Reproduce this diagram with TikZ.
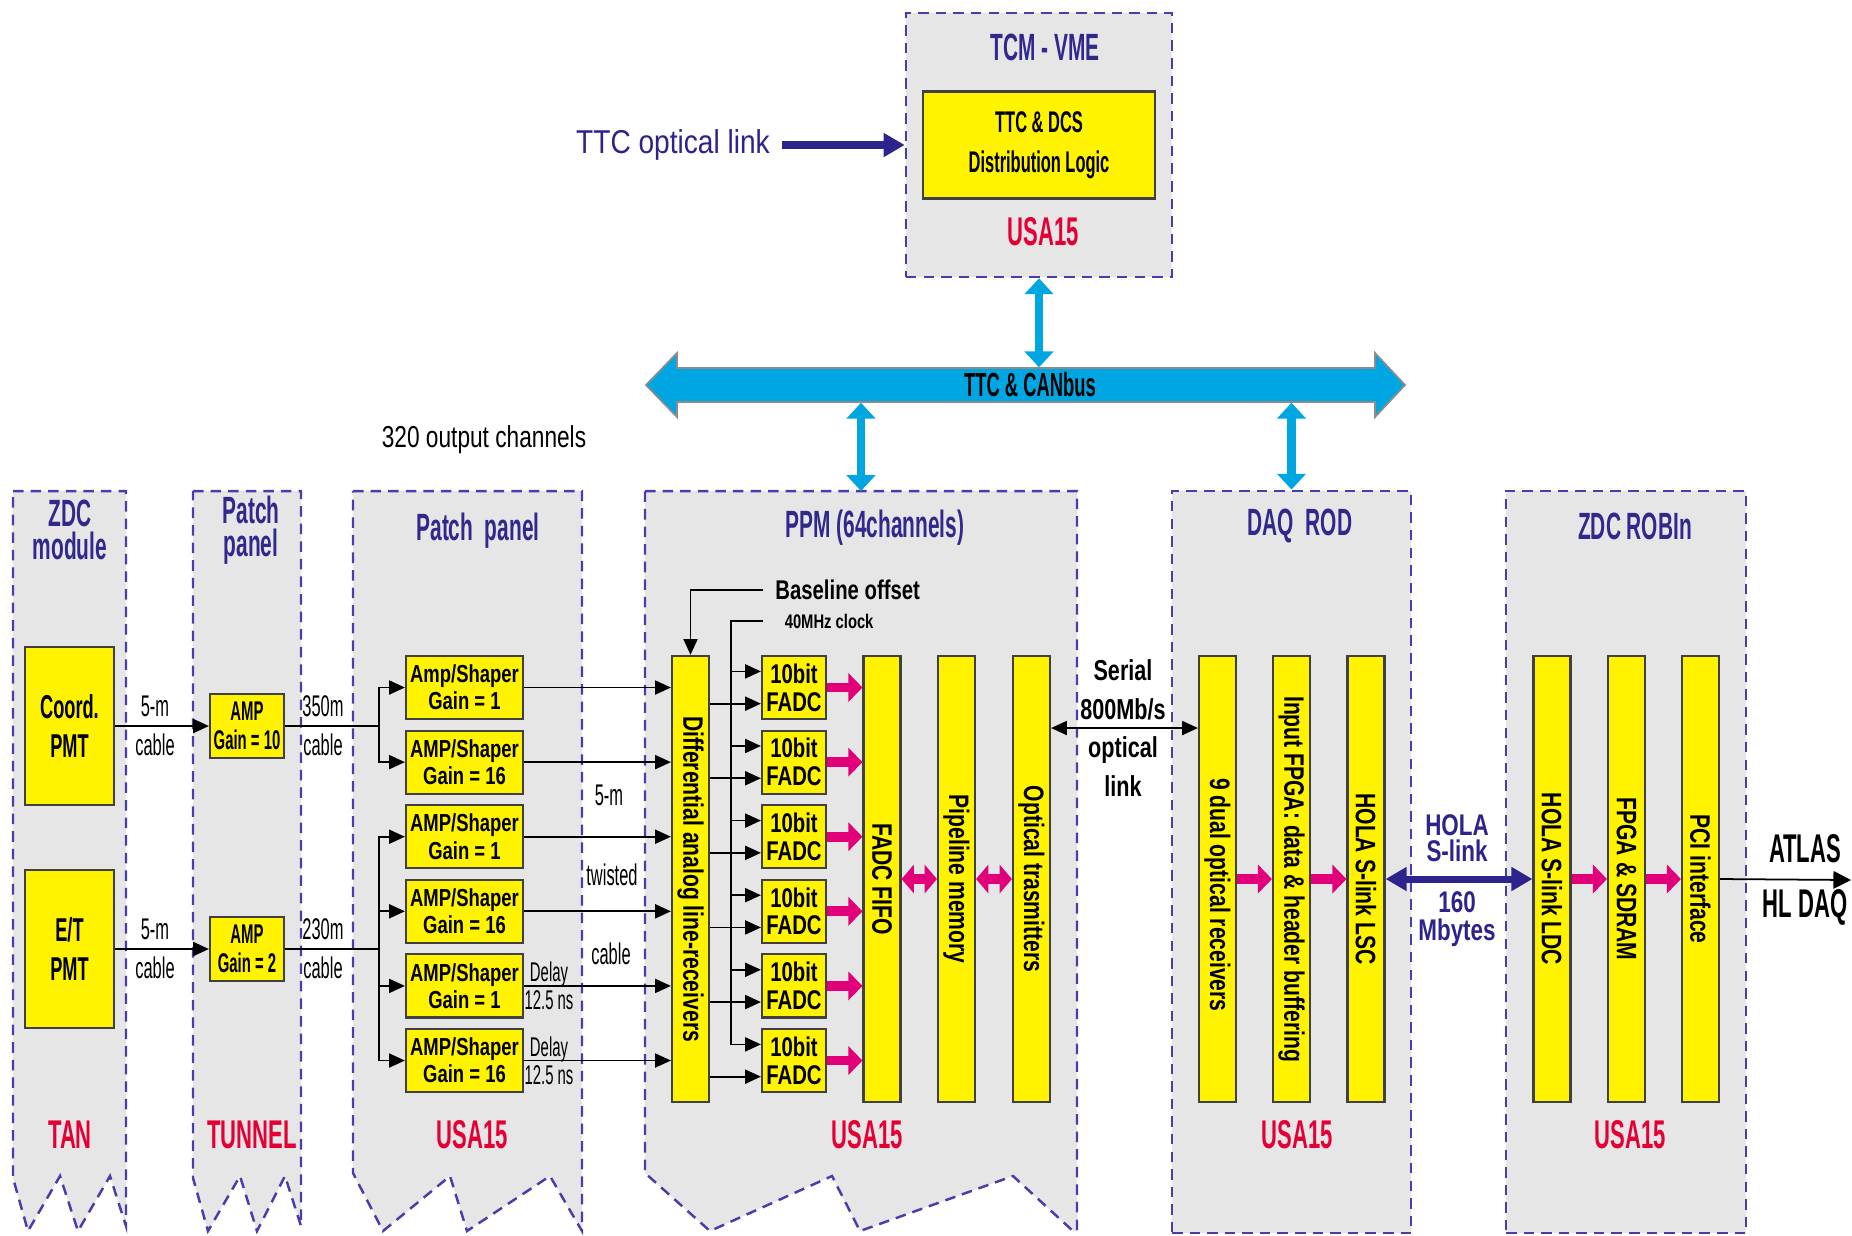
\documentclass[tikz,border=0pt]{standalone}
\usepackage{fontspec}
\setmainfont{Liberation Sans}
\newfontfamily\nfont[FakeStretch=0.55]{Liberation Sans}
\newfontfamily\cfont[FakeStretch=0.75]{Liberation Sans}
\newfontfamily\mfont[FakeStretch=0.85]{Liberation Sans}
\usetikzlibrary{arrows.meta}

\definecolor{zyellow}{RGB}{255,243,0}
\definecolor{panelgray}{RGB}{230,230,230}
\definecolor{dashblue}{RGB}{72,62,170}
\definecolor{titleblue}{RGB}{48,40,140}
\definecolor{usared}{RGB}{228,0,52}
\definecolor{sigmag}{RGB}{226,0,122}
\definecolor{ttcblue}{RGB}{0,166,226}
\definecolor{linkblue}{RGB}{45,35,140}

\begin{document}
\begin{tikzpicture}[x=0.01cm, y=-0.01cm,
    panel/.style={draw=dashblue, fill=panelgray, dash pattern=on 3pt off 2pt, line width=0.7pt},
    box/.style={draw=black!75, fill=zyellow, line width=0.6pt, inner sep=0.5pt, align=center},
    shaper/.style={box, minimum width=1.17cm, minimum height=0.63cm, font=\cfont\bfseries\fontsize{7}{7.7}\selectfont},
    fadc/.style={box, minimum width=0.64cm, minimum height=0.63cm, font=\cfont\bfseries\fontsize{7.7}{7.9}\selectfont},
    bar/.style={box, minimum width=0.37cm, minimum height=4.46cm},
    bartext/.style={rotate=-90, font=\cfont\bfseries\fontsize{8}{9}\selectfont},
    title/.style={text=titleblue, font=\nfont\bfseries\fontsize{10.8}{9.4}\selectfont, align=center},
    loc/.style={text=usared, font=\nfont\bfseries\fontsize{11.4}{12}\selectfont},
    note/.style={font=\nfont\fontsize{8.5}{11}\selectfont, align=center},
    sig/.style={line width=0.5pt, -{Triangle[length=4.5pt, width=4pt]}},
    mag/.style={sigmag, line width=2.8pt, -{Triangle[length=4pt, width=8pt]}},
    dmag/.style={sigmag, line width=2.8pt, {Triangle[length=3.5pt, width=8pt]}-{Triangle[length=3.5pt, width=8pt]}},
    ttcarrow/.style={ttcblue, line width=2.5pt, {Triangle[length=4.5pt, width=8pt]}-{Triangle[length=4.5pt, width=8pt]}},
    linkarrow/.style={linkblue, line width=2pt, -{Triangle[length=6pt, width=6.5pt]}}
]
    \path[use as bounding box, fill=white] (0,0) rectangle (1852,1235);

    % TCM - VME crate
    \node[panel, minimum width=2.66cm, minimum height=2.64cm] (tcm) at (1039,145) {};
    \node[title] (tcmt) at (1045,47) {TCM - VME};
    \node[box, minimum width=2.32cm, minimum height=1.07cm, font=\nfont\bfseries\fontsize{8.5}{11.4}\selectfont] (dist) at (1039,145) {TTC \& DCS\\Distribution Logic};
    \node[loc] (tcmloc) at (1043,232) {USA15};
    \node[text=linkblue, font=\mfont\fontsize{9.4}{10}\selectfont] (ttclink) at (673,145) {TTC optical link};
    \draw[linkarrow] (ttclink.east) -- (tcm.west);

    % TTC & CANbus
    \filldraw[fill=ttcblue, draw=black!45, line width=0.5pt] (646,385) -- (677,353) -- (677,368) -- (1375,368) -- (1375,353) -- (1405,385)
        -- (1375,417) -- (1375,402) -- (677,402) -- (677,417) -- cycle;
    \node[minimum width=6.98cm, minimum height=0.34cm, inner sep=0, font=\nfont\bfseries\fontsize{9.5}{10}\selectfont] (bus) at (1030,385) {TTC \& CANbus};
    \draw[ttcarrow] (tcm.south) -- (tcm.south |- bus.north);

    \node[font=\cfont\fontsize{8.6}{9}\selectfont] (nout) at (484,440) {320 output channels};

    % ZDC module
    \draw[panel] (13,491) -- (126,491) -- (126,1226) -- (110,1176) -- (78,1231) -- (60,1176) -- (28,1231) -- (13,1178) -- cycle;
    \node[title] (zdct) at (70,530) {ZDC\\module};
    \node[box, minimum width=0.89cm, minimum height=1.58cm, font=\nfont\bfseries\fontsize{9.4}{11}\selectfont] (coord) at (69.5,726) {Coord.\\PMT};
    \node[box, minimum width=0.89cm, minimum height=1.58cm, font=\nfont\bfseries\fontsize{9.4}{11}\selectfont] (et) at (69.5,949) {E/T\\PMT};
    \node[loc] (tan) at (70,1135) {TAN};

    % Patch panel in the tunnel
    \draw[panel] (193,491) -- (301,491) -- (301,1226) -- (285,1176) -- (257,1231) -- (240,1176) -- (208,1231) -- (193,1178) -- cycle;
    \node[title] (tunt) at (251,530) {Patch\\panel};
    \node[box, minimum width=0.74cm, minimum height=0.64cm, font=\nfont\bfseries\fontsize{7.7}{8.2}\selectfont] (amp10) at (247,726) {AMP\\Gain = 10};
    \node[box, minimum width=0.74cm, minimum height=0.64cm, font=\nfont\bfseries\fontsize{7.7}{8.2}\selectfont] (amp2) at (247,949) {AMP\\Gain = 2};
    \node[loc] (tunnel) at (252,1135) {TUNNEL};

    % Patch panel in USA15
    \draw[panel] (353,491) -- (582,491) -- (582,1231) -- (550,1176) -- (467,1231) -- (450,1176) -- (383,1231) -- (353,1173) -- cycle;
    \node[title] (ppt) at (478,531) {Patch~~panel};
    \node[shaper] (shp1) at (464.5,687.5) {Amp/Shaper\\Gain = 1};
    \node[shaper] (shp2) at (464.5,762.1) {AMP/Shaper\\Gain = 16};
    \node[shaper] (shp3) at (464.5,836.7) {AMP/Shaper\\Gain = 1};
    \node[shaper] (shp4) at (464.5,911.3) {AMP/Shaper\\Gain = 16};
    \node[shaper] (shp5) at (464.5,985.9) {AMP/Shaper\\Gain = 1};
    \node[shaper] (shp6) at (464.5,1060.5) {AMP/Shaper\\Gain = 16};
    \node[loc] (pploc) at (472,1135) {USA15};

    % PPM
    \draw[panel] (645,491) -- (1077,491) -- (1077,1231) -- (1073,1231) -- (1013,1176) -- (860,1231) -- (832,1176) -- (710,1231) -- (645,1173) -- cycle;
    \coordinate (ppmtop) at (861,491);
    \node[title] (ppmt) at (875,528) {PPM (64channels)};
    \node[bar] (lrx) at (690.5,879) {};
    \node[bartext] (lrxt) at (lrx) {Differential analog line-receivers};
    \node[fadc] (fadc1) at (794,687.5) {10bit\\FADC};
    \node[fadc] (fadc2) at (794,762.1) {10bit\\FADC};
    \node[fadc] (fadc3) at (794,836.7) {10bit\\FADC};
    \node[fadc] (fadc4) at (794,911.3) {10bit\\FADC};
    \node[fadc] (fadc5) at (794,985.9) {10bit\\FADC};
    \node[fadc] (fadc6) at (794,1060.5) {10bit\\FADC};
    \node[bar] (fifo) at (882,879) {};
    \node[bartext] (fifot) at (fifo) {FADC FIFO};
    \node[bar] (pipe) at (956.5,879) {};
    \node[bartext] (pipet) at (pipe) {Pipeline memory};
    \node[bar] (otx) at (1031.5,879) {};
    \node[bartext] (otxt) at (otx) {Optical trasmitters};
    \node[loc] (ppmloc) at (867,1135) {USA15};
    \node[anchor=west, font=\cfont\bfseries\fontsize{7.7}{8}\selectfont] (base) at (763,590) {Baseline offset};
    \node[anchor=west, inner xsep=6pt, font=\cfont\bfseries\fontsize{5.6}{6}\selectfont] (clock) at (763,621) {40MHz clock};
    \coordinate (clk) at (731,1044.9);

    % DAQ ROD
    \node[panel, minimum width=2.39cm, minimum height=7.42cm] (daq) at (1291.5,862) {};
    \node[title] (daqt) at (1300,526) {DAQ~~ROD};
    \node[bar] (rx9) at (1217.5,879) {};
    \node[bartext, xshift=4.5pt] (rx9t) at (rx9) {9 dual optical receivers};
    \node[bar] (fpga) at (1291.5,879) {};
    \node[bartext] (fpgat) at (fpga) {Input FPGA: data \& header buffering};
    \node[bar] (lsc) at (1366,879) {};
    \node[bartext] (lsct) at (lsc) {HOLA S-link LSC};
    \node[loc] (daqloc) at (1297,1135) {USA15};

    % ZDC ROBIn
    \node[panel, minimum width=2.4cm, minimum height=7.42cm] (robin) at (1626,862) {};
    \node[title] (robt) at (1635,526) {ZDC ROBIn};
    \node[bar] (ldc) at (1552,879) {};
    \node[bartext] (ldct) at (ldc) {HOLA S-link LDC};
    \node[bar] (sdram) at (1626.5,879) {};
    \node[bartext] (sdramt) at (sdram) {FPGA \& SDRAM};
    \node[bar] (pci) at (1700.5,879) {};
    \node[bartext] (pcit) at (pci) {PCI interface};
    \node[loc] (robloc) at (1630,1135) {USA15};

    % TTC & CANbus drops
    \draw[ttcarrow] (ppmtop |- bus.south) -- (ppmtop);
    \draw[ttcarrow] (daq.north |- bus.south) -- (daq.north);

    % Cables from the ZDC
    \draw[sig] (coord.east) -- (amp10.west);
    \draw[sig] (et.east) -- (amp2.west);
    \node[note] (c5a) at (155,726) {5-m\\cable};
    \node[note] (c5b) at (155,949) {5-m\\cable};
    \node[note] (c350) at (323,726) {350m\\cable};
    \node[note] (c230) at (323,949) {230m\\cable};

    % Fan-out to the shapers
    \coordinate (br1) at (379,726);
    \coordinate (br2) at (379,949);
    \draw[line width=0.5pt] (amp10.east) -- (br1);
    \draw[line width=0.5pt] (amp2.east) -- (br2);
    \draw[sig] (br1) |- (shp1.west);
    \draw[sig] (br1) |- (shp2.west);
    \draw[sig] (br2) |- (shp3.west);
    \draw[sig] (br2) |- (shp4.west);
    \draw[sig] (br2) |- (shp5.west);
    \draw[sig] (br2) |- (shp6.west);

    % Twisted cables to the line receivers
    \draw[sig] (shp1.east) -- (shp1.east -| lrx.west);
    \draw[sig] (shp2.east) -- (shp2.east -| lrx.west);
    \draw[sig] (shp3.east) -- (shp3.east -| lrx.west);
    \draw[sig] (shp4.east) -- (shp4.east -| lrx.west);
    \draw[sig] (shp5.east) -- (shp5.east -| lrx.west);
    \draw[sig] (shp6.east) -- (shp6.east -| lrx.west);
    \node[note, font=\nfont\fontsize{7.7}{8}\selectfont] (dly5) at (549,985.9) {Delay\\12.5 ns};
    \node[note, font=\nfont\fontsize{7.7}{8}\selectfont] (dly6) at (549,1060.5) {Delay\\12.5 ns};
    \node[note] (tw1) at (609,795) {5-m};
    \node[note] (tw2) at (612,875) {twisted};
    \node[note] (tw3) at (611,954) {cable};

    % Baseline offset and clock
    \draw[sig] (base.west) -| (lrx.north);
    \draw[line width=0.5pt] (clock.west) -| (clk);
    \draw[sig] (clk |- fadc1.154) -- (fadc1.154);
    \draw[sig] (clk |- fadc2.154) -- (fadc2.154);
    \draw[sig] (clk |- fadc3.154) -- (fadc3.154);
    \draw[sig] (clk |- fadc4.154) -- (fadc4.154);
    \draw[sig] (clk |- fadc5.154) -- (fadc5.154);
    \draw[sig] (clk |- fadc6.154) -- (fadc6.154);
    \draw[sig] (lrx.east |- fadc1.206) -- (fadc1.206);
    \draw[sig] (lrx.east |- fadc2.206) -- (fadc2.206);
    \draw[sig] (lrx.east |- fadc3.206) -- (fadc3.206);
    \draw[sig] (lrx.east |- fadc4.206) -- (fadc4.206);
    \draw[sig] (lrx.east |- fadc5.206) -- (fadc5.206);
    \draw[sig] (lrx.east |- fadc6.206) -- (fadc6.206);

    % Data path in the PPM
    \draw[mag] (fadc1.east) -- (fadc1.east -| fifo.west);
    \draw[mag] (fadc2.east) -- (fadc2.east -| fifo.west);
    \draw[mag] (fadc3.east) -- (fadc3.east -| fifo.west);
    \draw[mag] (fadc4.east) -- (fadc4.east -| fifo.west);
    \draw[mag] (fadc5.east) -- (fadc5.east -| fifo.west);
    \draw[mag] (fadc6.east) -- (fadc6.east -| fifo.west);
    \draw[dmag] (fifo.east) -- (pipe.west);
    \draw[dmag] (pipe.east) -- (otx.west);

    % Serial optical link
    \node[font=\cfont\bfseries\fontsize{8.2}{11}\selectfont, align=center] (serial) at (1123,728) {Serial\\800Mb/s\\optical\\link};
    \draw[line width=0.5pt, {Triangle[length=4.5pt, width=4pt]}-{Triangle[length=4.5pt, width=4pt]}] (otx.east |- serial) -- (rx9.west |- serial);

    % DAQ ROD and ROBIn
    \draw[mag] (rx9.east) -- (fpga.west);
    \draw[mag] (fpga.east) -- (lsc.west);
    \draw[linkarrow, {Triangle[length=6pt, width=6.5pt]}-{Triangle[length=6pt, width=6.5pt]}] (lsc.east) -- (ldc.west);
    \node[text=linkblue, font=\cfont\bfseries\fontsize{8.5}{7.4}\selectfont, align=center] (hola) at (1457,838) {HOLA\\S-link};
    \node[text=linkblue, font=\cfont\bfseries\fontsize{8.5}{8}\selectfont, align=center] (rate) at (1457,919) {160\\Mbytes};
    \draw[mag] (ldc.east) -- (sdram.west);
    \draw[mag] (sdram.east) -- (pci.west);

    % Output to ATLAS
    \coordinate (hlout) at (1851,880);
    \draw[line width=0.5pt, -{Triangle[length=5pt, width=5pt]}] (pci.east) -- (hlout);
    \node[font=\nfont\bfseries\fontsize{11.4}{15.6}\selectfont, align=center] (atlas) at (1805,880) {ATLAS\\HL DAQ};
\end{tikzpicture}
\end{document}
